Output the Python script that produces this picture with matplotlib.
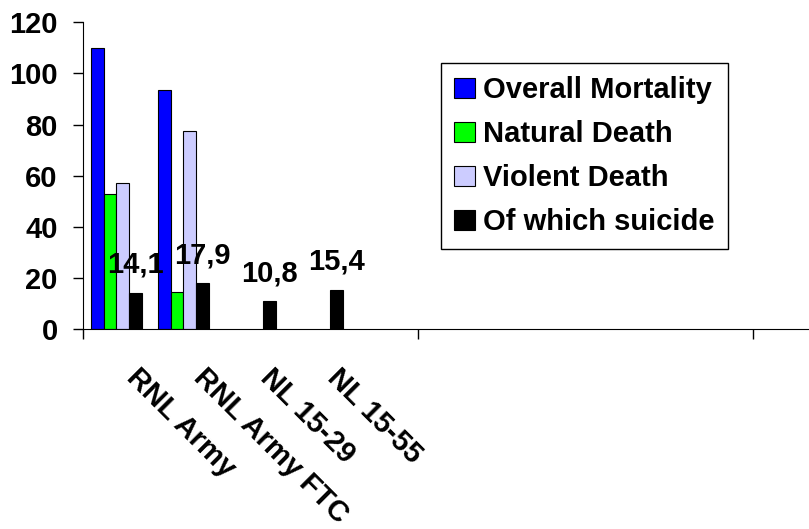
import matplotlib.pyplot as plt
import matplotlib.transforms as mtransforms
import numpy as np

plt.rcParams['font.family'] = ['Liberation Sans', 'DejaVu Sans']
plt.rcParams['font.weight'] = 'bold'

# data
categories = ["RNL Army", "RNL Army FTC", "NL 15-29", "NL 15-55"]
overall = [110, 93.4]
natural = [52.8, 14.3]
violent = [57, 77.5]
suicide = [14.1, 17.9, 10.8, 15.4]
suicide_labels = ["14,1", "17,9", "10,8", "15,4"]

series_names = ["Overall Mortality", "Natural Death", "Violent Death", "Of which suicide"]
colors = ["#0000FF", "#00FF00", "#CCCCFF", "#000000"]

fig = plt.figure(figsize=(8.09, 5.29), dpi=100)
ax = fig.add_axes([83 / 809, 1 - 329 / 529, 726 / 809, 306.7 / 529])

width = 0.1875
x = np.arange(len(categories))
all_series = [overall, natural, violent, suicide]
for k, (vals, name, col) in enumerate(zip(all_series, series_names, colors)):
    xs = x[:len(vals)] + (k - 1.5) * width
    ax.bar(xs, vals, width=width, color=col, edgecolor="black",
           linewidth=0.8, label=name)

# data labels for suicide
for i, (v, t) in enumerate(zip(suicide, suicide_labels)):
    ax.annotate(t, (x[i] + 1.5 * width, v), xytext=(0, 14.4),
                textcoords="offset points", ha="center", va="baseline",
                fontsize=21, fontweight="bold")

ax.set_ylim(0, 120)
ax.set_yticks(np.arange(0, 121, 20))
ax.set_xlim(-0.5, 10.34)

# major ticks every 5 categories, labels on minor ticks at centres
ax.set_xticks([-0.5, 4.5, 9.5])
ax.set_xticklabels([])
ax.set_xticks(x, minor=True)
ax.set_xticklabels(categories, minor=True, rotation=-45, ha="left", va="top",
                   rotation_mode="anchor", fontsize=21, fontweight="bold")
ax.tick_params(axis="x", which="minor", length=0, pad=0)
ax.tick_params(axis="both", which="major", direction="out", length=7.2,
               width=1, labelsize=21)
ax.tick_params(axis="y", pad=11)
shift = mtransforms.ScaledTranslation(24 / 100, -34 / 100, fig.dpi_scale_trans)
for lbl in ax.get_xticklabels(minor=True):
    lbl.set_transform(lbl.get_transform() + shift)
for lbl in ax.get_yticklabels():
    lbl.set_fontweight("bold")

ax.spines["top"].set_visible(False)
ax.spines["right"].set_visible(False)

leg = ax.legend(loc="upper left", bbox_to_anchor=(0.493, 0.867),
                borderaxespad=0, handlelength=0.72,
                handleheight=0.7, handletextpad=0.28, labelspacing=0.55,
                borderpad=0.45, fancybox=False, framealpha=1,
                edgecolor="black", prop={"weight": "bold", "size": 21})
leg.get_frame().set_linewidth(1)

fig.savefig("out.png", dpi=100)
